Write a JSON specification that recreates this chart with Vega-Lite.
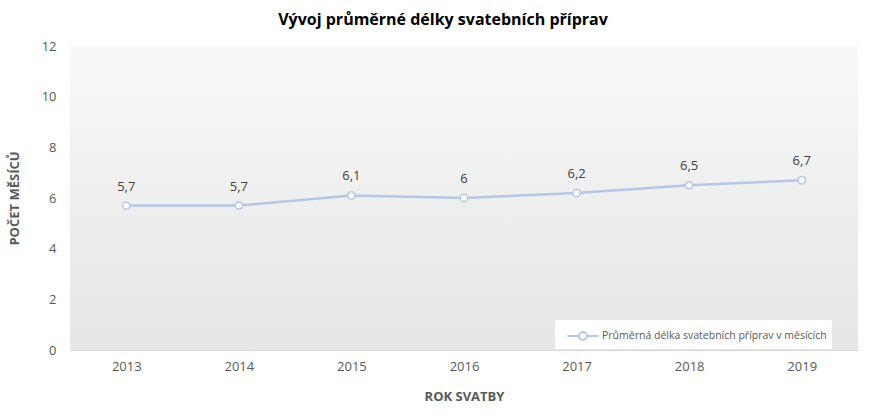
{
  "$schema": "https://vega.github.io/schema/vega-lite/v6.json",
  "width": 788,
  "height": 304,
  "autosize": {"type": "none"},
  "padding": {"left": 70, "top": 46, "right": 31, "bottom": 66},
  "background": "white",
  "config": {
    "font": "Open Sans",
    "locale": {"number": {"decimal": ",", "thousands": " ", "grouping": [3], "currency": ["", " Kč"]}},
    "view": {"stroke": null, "fill": {"gradient": "linear", "x1": 0, "y1": 0, "x2": 0, "y2": 1, "stops": [{"offset": 0, "color": "#f8f8f8"}, {"offset": 1, "color": "#e6e6e6"}]}}
  },
  "title": {
    "text": "Vývoj průměrné délky svatebních příprav",
    "fontSize": 16,
    "fontWeight": "bold",
    "color": "#000000",
    "anchor": "middle",
    "dx": -21,
    "offset": 12
  },
  "data": {
    "values": [
      {"rok": "2013", "hodnota": 5.7, "serie": "Průměrná délka svatebních příprav v měsících"},
      {"rok": "2014", "hodnota": 5.7, "serie": "Průměrná délka svatebních příprav v měsících"},
      {"rok": "2015", "hodnota": 6.1, "serie": "Průměrná délka svatebních příprav v měsících"},
      {"rok": "2016", "hodnota": 6.0, "serie": "Průměrná délka svatebních příprav v měsících"},
      {"rok": "2017", "hodnota": 6.2, "serie": "Průměrná délka svatebních příprav v měsících"},
      {"rok": "2018", "hodnota": 6.5, "serie": "Průměrná délka svatebních příprav v měsících"},
      {"rok": "2019", "hodnota": 6.7, "serie": "Průměrná délka svatebních příprav v měsících"}
    ]
  },
  "encoding": {
    "x": {
      "field": "rok", "type": "ordinal",
      "scale": {"type": "point", "padding": 0.5},
      "axis": {
        "title": "ROK SVATBY", "titleFontSize": 13, "titleFontWeight": "bold", "titleColor": "#595959", "titlePadding": 17,
        "labelAngle": 0, "labelFontSize": 13, "labelColor": "#595959", "labelPadding": 10,
        "ticks": false, "domainColor": "#d9d9d9", "domainWidth": 1, "grid": false
      }
    },
    "y": {
      "field": "hodnota", "type": "quantitative",
      "scale": {"domain": [0, 12], "nice": false},
      "axis": {
        "title": "POČET MĚSÍCŮ", "titleFontSize": 13, "titleFontWeight": "bold", "titleColor": "#595959", "titlePadding": 20,
        "values": [0, 2, 4, 6, 8, 10, 12],
        "labelFontSize": 13, "labelColor": "#595959", "labelPadding": 14,
        "ticks": false, "domain": false, "grid": false
      }
    }
  },
  "layer": [
    {
      "mark": {"type": "line", "strokeWidth": 2.5, "color": "#b4c7e7"},
      "encoding": {
        "color": {
          "field": "serie", "type": "nominal",
          "scale": {"range": ["#b4c7e7"]},
          "legend": {
            "title": null, "orient": "none", "legendX": 485, "legendY": 274,
            "fillColor": "white", "padding": 5,
            "symbolType": "M-1.6,0L-0.4,0M0.4,0L1.6,0M0.4,0A0.4,0.4 0 1,1 -0.4,0A0.4,0.4 0 1,1 0.4,0",
            "symbolSize": 380, "symbolStrokeWidth": 2, "symbolFillColor": "white", "symbolStrokeColor": "#b4c7e7",
            "symbolOffset": 12, "labelOffset": 8,
            "labelFontSize": 10.5, "labelColor": "#595959", "labelFont": "Open Sans",
            "labelLimit": 400
          }
        }
      }
    },
    {
      "mark": {"type": "point", "filled": true, "fill": "white", "stroke": "#b4c7e7", "strokeWidth": 1.5, "size": 55, "opacity": 1}
    },
    {
      "mark": {"type": "text", "dy": -19, "fontSize": 13, "color": "#404040"},
      "encoding": {"text": {"field": "hodnota", "type": "quantitative", "format": ".1~f"}}
    }
  ]
}
